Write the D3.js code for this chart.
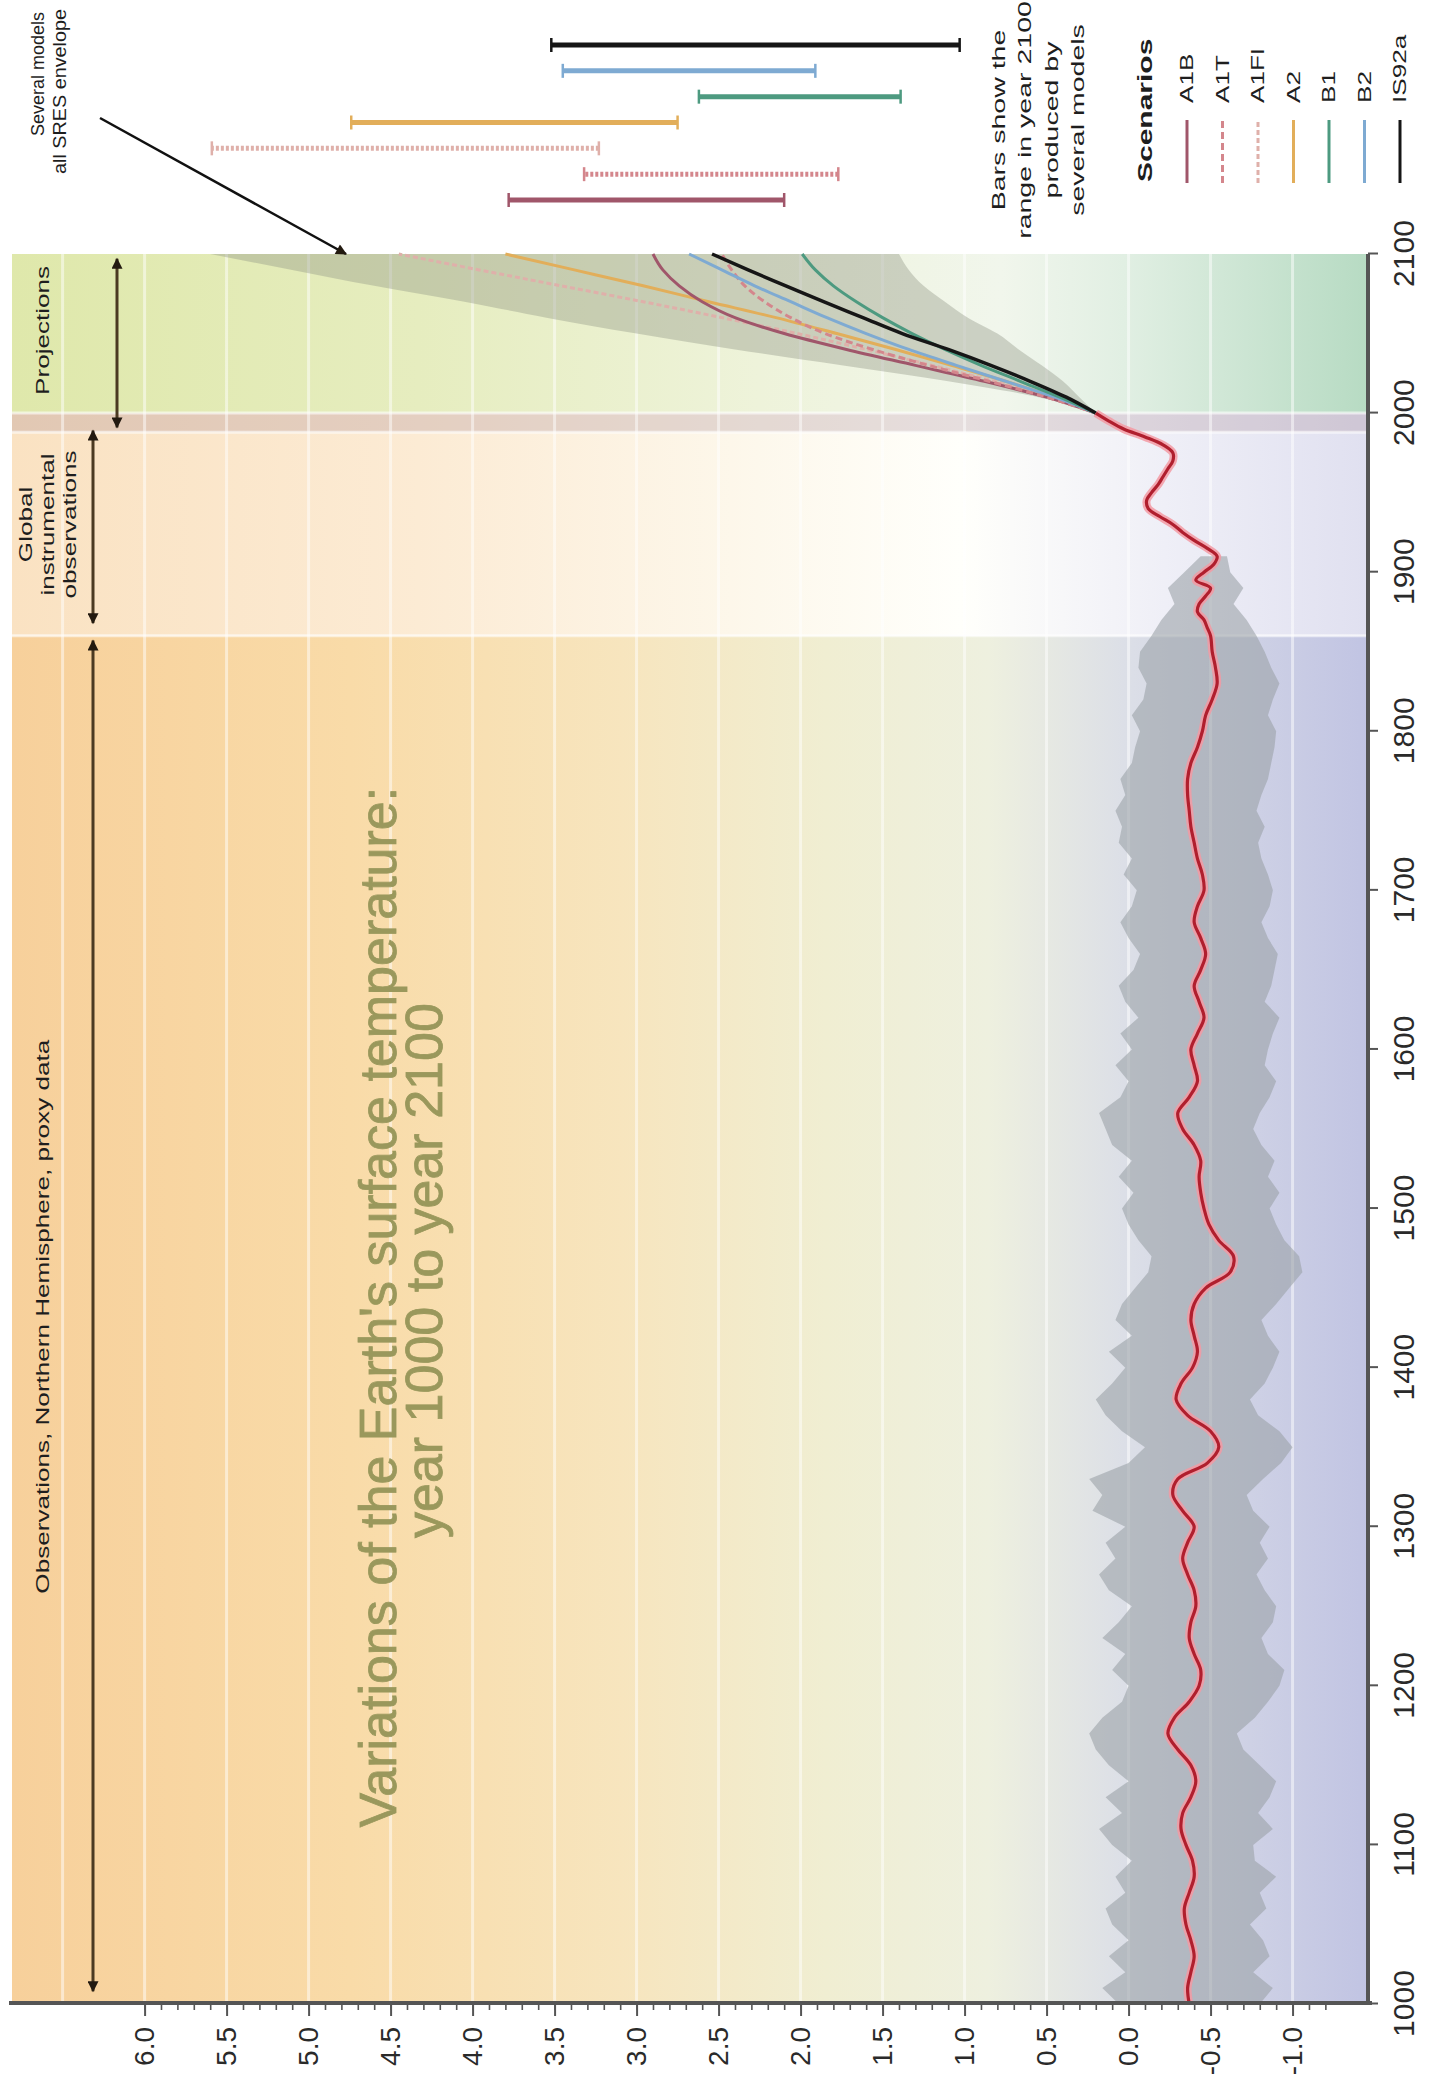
<!DOCTYPE html>
<html>
<head>
<meta charset="utf-8">
<script src="https://cdn.jsdelivr.net/npm/d3@7"></script>
<style>
  html, body { margin: 0; padding: 0; background: #ffffff; }
  svg { display: block; }
  text { font-family: "Liberation Sans", Arial, Helvetica, sans-serif; }
</style>
</head>
<body>
<svg id="chart" width="1429" height="2080"></svg>
<script>
// ---------------------------------------------------------------
// Northern Hemisphere temperature 1000-2000 and projections to 2100
// (departures in °C). The chart is laid out on its side: years run
// up the page, temperature runs from right (cold) to left (warm).
// ---------------------------------------------------------------

// Axis ticks
const yearTicks = [1000, 1100, 1200, 1300, 1400, 1500, 1600, 1700, 1800, 1900, 2000, 2100];
const tempTicks = [-1.0, -0.5, 0.0, 0.5, 1.0, 1.5, 2.0, 2.5, 3.0, 3.5, 4.0, 4.5, 5.0, 5.5, 6.0];
const tempTickLabels = ["-1.0", "-0.5", "0.0", "0.5", "1.0", "1.5", "2.0", "2.5", "3.0", "3.5", "4.0", "4.5", "5.0", "5.5", "6.0"];

// Smoothed record (proxy data to 1860, instruments afterwards)
const recordYears = [
  1000, 1010, 1020, 1030, 1040, 1050, 1060, 1070, 1080, 1090,
  1100, 1110, 1120, 1130, 1140, 1150, 1160, 1170, 1180, 1190,
  1200, 1210, 1220, 1230, 1240, 1250, 1260, 1270, 1280, 1290,
  1300, 1310, 1320, 1330, 1340, 1350, 1360, 1370, 1380, 1390,
  1400, 1410, 1420, 1430, 1440, 1450, 1460, 1470, 1480, 1490,
  1500, 1510, 1520, 1530, 1540, 1550, 1560, 1570, 1580, 1590,
  1600, 1610, 1620, 1630, 1640, 1650, 1660, 1670, 1680, 1690,
  1700, 1710, 1720, 1730, 1740, 1750, 1760, 1770, 1780, 1790,
  1800, 1810, 1820, 1830, 1840, 1850, 1860,
  1865, 1870, 1875, 1880, 1885, 1890, 1895, 1900, 1905, 1910,
  1915, 1920, 1925, 1930, 1935, 1940, 1945, 1950, 1955, 1960,
  1965, 1970, 1975, 1980, 1985, 1990, 1995, 2000
];
const recordTemps = [
  -0.37, -0.36, -0.38, -0.40, -0.38, -0.35, -0.34, -0.37, -0.40, -0.39,
  -0.35, -0.32, -0.33, -0.38, -0.41, -0.38, -0.30, -0.24, -0.28, -0.37,
  -0.43, -0.44, -0.40, -0.37, -0.38, -0.41, -0.40, -0.36, -0.33, -0.36,
  -0.40, -0.33, -0.27, -0.30, -0.48, -0.55, -0.50, -0.36, -0.29, -0.32,
  -0.39, -0.42, -0.40, -0.38, -0.40, -0.47, -0.62, -0.64, -0.55, -0.49,
  -0.46, -0.44, -0.43, -0.44, -0.40, -0.33, -0.30, -0.37, -0.42, -0.40,
  -0.38, -0.42, -0.46, -0.43, -0.40, -0.44, -0.47, -0.44, -0.40, -0.42,
  -0.46, -0.45, -0.42, -0.40, -0.38, -0.37, -0.36, -0.36, -0.38, -0.42,
  -0.45, -0.47, -0.51, -0.54, -0.53, -0.51, -0.50,
  -0.48, -0.46, -0.42, -0.43, -0.47, -0.50, -0.41, -0.46, -0.52, -0.54,
  -0.48, -0.40, -0.33, -0.27, -0.19, -0.12, -0.11, -0.14, -0.18, -0.21,
  -0.24, -0.27, -0.27, -0.21, -0.10, 0.03, 0.12, 0.20
];

// Range of the yearly reconstructions (warm and cold edges)
const rangeYears = [
  1000, 1010, 1020, 1030, 1040, 1050, 1060, 1070, 1080, 1090,
  1100, 1110, 1120, 1130, 1140, 1150, 1160, 1170, 1180, 1190,
  1200, 1210, 1220, 1230, 1240, 1250, 1260, 1270, 1280, 1290,
  1300, 1310, 1320, 1330, 1340, 1350, 1360, 1370, 1380, 1390,
  1400, 1410, 1420, 1430, 1440, 1450, 1460, 1470, 1480, 1490,
  1500, 1510, 1520, 1530, 1540, 1550, 1560, 1570, 1580, 1590,
  1600, 1610, 1620, 1630, 1640, 1650, 1660, 1670, 1680, 1690,
  1700, 1710, 1720, 1730, 1740, 1750, 1760, 1770, 1780, 1790,
  1800, 1810, 1820, 1830, 1840, 1850, 1860, 1870, 1880, 1890,
  1900, 1910
];
const rangeWarm = [
  0.06, 0.16, 0.02, 0.12, 0.00, 0.10, 0.14, 0.02, 0.08, -0.02,
  0.10, 0.18, 0.04, 0.14, 0.00, 0.12, 0.20, 0.24, 0.16, 0.04,
  0.00, 0.10, 0.02, 0.16, 0.06, -0.02, 0.12, 0.18, 0.08, 0.14,
  0.02, 0.22, 0.16, 0.24, 0.00, -0.10, 0.04, 0.14, 0.20, 0.10,
  0.02, 0.12, -0.02, 0.08, 0.04, -0.04, -0.12, -0.14, -0.06, 0.00,
  0.04, -0.03, 0.06, -0.02, 0.10, 0.14, 0.18, 0.05, 0.00, 0.08,
  -0.02, 0.05, -0.06, 0.02, 0.06, -0.03, -0.07, 0.00, 0.05, -0.02,
  -0.05, 0.03, -0.02, 0.06, 0.04, 0.08, 0.02, 0.05, -0.02, -0.04,
  -0.07, -0.02, -0.09, -0.11, -0.06, -0.07, -0.14, -0.20, -0.28, -0.24,
  -0.34, -0.44
];
const rangeCold = [
  -0.80, -0.88, -0.76, -0.86, -0.82, -0.74, -0.84, -0.80, -0.90, -0.77,
  -0.76, -0.88, -0.79, -0.86, -0.90, -0.80, -0.70, -0.66, -0.77, -0.85,
  -0.92, -0.95, -0.85, -0.81, -0.88, -0.90, -0.83, -0.78, -0.85, -0.80,
  -0.86, -0.76, -0.72, -0.82, -0.93, -1.00, -0.92, -0.79, -0.74, -0.83,
  -0.88, -0.92, -0.85, -0.81, -0.90, -0.98, -1.06, -1.04, -0.95, -0.90,
  -0.86, -0.92, -0.85, -0.89, -0.81, -0.76, -0.80, -0.86, -0.90, -0.83,
  -0.85, -0.88, -0.92, -0.83, -0.87, -0.89, -0.91, -0.85, -0.81, -0.86,
  -0.88, -0.85, -0.81, -0.79, -0.83, -0.78, -0.81, -0.85, -0.87, -0.89,
  -0.90, -0.85, -0.88, -0.92, -0.87, -0.83, -0.78, -0.72, -0.64, -0.70,
  -0.62, -0.60
];

// Projections 2000-2100
const projYears = [2000, 2010, 2020, 2030, 2040, 2050, 2060, 2070, 2080, 2090, 2100];
const envelopeWarm = [0.20, 0.55, 1.10, 1.75, 2.40, 3.00, 3.55, 4.05, 4.60, 5.10, 5.60];
const envelopeCold = [0.20, 0.30, 0.40, 0.53, 0.67, 0.80, 0.98, 1.12, 1.25, 1.34, 1.40];

const scenarios = ["A1B", "A1T", "A1FI", "A2", "B1", "B2", "IS92a"];
const scenarioColors = ["#a0566a", "#d4868c", "#dfb0aa", "#e2ae5a", "#4d9a80", "#7eaad2", "#161616"];
const scenarioDash = ["", "7,4", "5,3", "", "", "", ""];
const projA1B   = [0.20, 0.50, 0.88, 1.30, 1.72, 2.10, 2.40, 2.60, 2.74, 2.84, 2.90];
const projA1T   = [0.20, 0.50, 0.85, 1.22, 1.56, 1.85, 2.06, 2.22, 2.34, 2.42, 2.48];
const projA1FI  = [0.20, 0.48, 0.82, 1.20, 1.60, 2.02, 2.48, 2.96, 3.46, 3.96, 4.45];
const projA2    = [0.20, 0.45, 0.75, 1.08, 1.42, 1.78, 2.15, 2.56, 2.96, 3.38, 3.80];
const projB1    = [0.20, 0.42, 0.66, 0.90, 1.12, 1.32, 1.50, 1.66, 1.80, 1.91, 1.99];
const projB2    = [0.20, 0.45, 0.75, 1.05, 1.34, 1.60, 1.84, 2.06, 2.28, 2.48, 2.68];
const projIS92a = [0.20, 0.38, 0.60, 0.84, 1.10, 1.38, 1.62, 1.86, 2.09, 2.32, 2.54];
const projections = [projA1B, projA1T, projA1FI, projA2, projB1, projB2, projIS92a];

// Range of several models in year 2100, per scenario
const rangeLow2100  = [2.10, 1.77, 3.23, 2.75, 1.39, 1.91, 1.03];
const rangeHigh2100 = [3.78, 3.32, 5.59, 4.74, 2.62, 3.45, 3.52];

// ---------------------------------------------------------------
const W = 1429, H = 2080;
const FONT_SMALL = 18;

const svg = d3.select("#chart");
const defs = svg.append("defs");
// Rotated frame: u runs along the years, v along temperature (warm at top)
const g = svg.append("g").attr("transform", `translate(0,${H}) rotate(-90)`);

const x = d3.scaleLinear().domain([1000, 2100]).range([76, 1826]);
const y = d3.scaleLinear().domain([-1.46, 6.8]).range([1368, 13.4]);
const vTop = 12, vBottom = y.range()[0];

// Background gradients along the temperature direction
function gradient(id, stops) {
  const lg = defs.append("linearGradient").attr("id", id)
    .attr("gradientUnits", "userSpaceOnUse")
    .attr("x1", 0).attr("y1", vTop).attr("x2", 0).attr("y2", vBottom);
  stops.forEach(([o, c]) => lg.append("stop").attr("offset", o).attr("stop-color", c));
}
gradient("gProxy", [[0, "#f7d09b"], [0.25, "#f9dba8"], [0.45, "#f7e5be"], [0.6, "#f0eed2"],
  [0.72, "#eef0df"], [0.82, "#dcdfe7"], [1, "#c1c4e3"]]);
gradient("gInstr", [[0, "#fae2c2"], [0.3, "#fcebd4"], [0.55, "#fdf8ec"], [0.7, "#fffffb"],
  [0.85, "#efeff7"], [1, "#e0e0f0"]]);
gradient("gProj", [[0, "#dfe8ab"], [0.3, "#e6edbf"], [0.55, "#eef3da"], [0.73, "#f1f6ec"],
  [0.82, "#e1efe3"], [1, "#b7dbc3"]]);

const periods = [
  { from: 1000, to: 1860, fill: "url(#gProxy)" },
  { from: 1860, to: 2000, fill: "url(#gInstr)" },
  { from: 2000, to: 2100, fill: "url(#gProj)" }
];
g.append("g").selectAll("rect").data(periods).join("rect")
  .attr("x", d => x(d.from)).attr("width", d => x(d.to) - x(d.from))
  .attr("y", vTop).attr("height", vBottom - vTop)
  .attr("fill", d => d.fill);

// Band marking the end of the observed record
g.append("rect")
  .attr("x", x(1988)).attr("width", x(2000) - x(1988))
  .attr("y", vTop).attr("height", vBottom - vTop)
  .attr("fill", "#9c7a86").attr("opacity", 0.25);

// Soft white edges between periods
g.append("g").selectAll("line").data([1860, 1988, 2000]).join("line")
  .attr("x1", d => x(d)).attr("x2", d => x(d))
  .attr("y1", vTop).attr("y2", vBottom)
  .attr("stroke", "#ffffff").attr("stroke-width", 3).attr("opacity", 0.6);

// White grid lines every 0.5 °C
const gridTemps = [-1.0, -0.5, 0.0, 0.5, 1.0, 1.5, 2.0, 2.5, 3.0, 3.5, 4.0, 4.5, 5.0, 5.5, 6.0, 6.5];
g.append("g").selectAll("line").data(gridTemps).join("line")
  .attr("x1", x(1000)).attr("x2", x(2100))
  .attr("y1", d => y(d)).attr("y2", d => y(d))
  .attr("stroke", "#ffffff").attr("stroke-width", 3).attr("opacity", 0.5);

// Yearly range of the reconstruction
const rangeData = rangeYears.map((yr, i) => ({ yr, hi: rangeWarm[i], lo: rangeCold[i] }));
g.append("path").datum(rangeData)
  .attr("d", d3.area().x(d => x(d.yr)).y0(d => y(d.lo)).y1(d => y(d.hi)))
  .attr("fill", "#9aa0a6").attr("opacity", 0.58);

// Envelope of all scenarios, several models
const envData = projYears.map((yr, i) => ({ yr, hi: envelopeWarm[i], lo: envelopeCold[i] }));
g.append("path").datum(envData)
  .attr("d", d3.area().curve(d3.curveMonotoneX).x(d => x(d.yr)).y0(d => y(d.lo)).y1(d => y(d.hi)))
  .attr("fill", "#8f9483").attr("opacity", 0.38);

// Scenario projections
const projLine = d3.line().curve(d3.curveMonotoneX).x((d, i) => x(projYears[i])).y(d => y(d));
const drawOrder = [2, 3, 0, 1, 5, 4, 6];
g.append("g").selectAll("path").data(drawOrder).join("path")
  .attr("d", k => projLine(projections[k]))
  .attr("fill", "none")
  .attr("stroke", k => scenarioColors[k])
  .attr("stroke-width", k => k === 6 ? 3.5 : 3)
  .attr("stroke-dasharray", k => scenarioDash[k] || null);

// Smoothed record: pink halo under a dark red line
const recData = recordYears.map((yr, i) => ({ yr, t: recordTemps[i] }));
const recLine = d3.line().curve(d3.curveCatmullRom).x(d => x(d.yr)).y(d => y(d.t));
g.append("path").datum(recData).attr("d", recLine)
  .attr("fill", "none").attr("stroke", "#f39aa3").attr("stroke-width", 8).attr("opacity", 0.85);
g.append("path").datum(recData).attr("d", recLine)
  .attr("fill", "none").attr("stroke", "#b01f2e").attr("stroke-width", 3.2);

// ---------------- Axes ----------------
const axisColor = "#555555";

// Temperature axis (minor ticks every 0.1 °C)
const minorTicks = d3.range(-12, 61).map(d => d / 10);
g.append("g").attr("transform", `translate(${x(1000) + 1},0)`)
  .call(d3.axisLeft(y).tickValues(minorTicks).tickSize(7).tickFormat(""))
  .call(s => s.select(".domain").remove())
  .call(s => s.selectAll("line").attr("stroke", axisColor).attr("stroke-width", 1.6));

const tAxis = g.append("g").attr("transform", `translate(${x(1000) + 1},0)`)
  .call(d3.axisLeft(y).tickValues(tempTicks).tickSize(13).tickPadding(11)
    .tickFormat((d, i) => tempTickLabels[i]))
  .call(s => s.select(".domain").remove());
tAxis.selectAll("line").attr("stroke", axisColor).attr("stroke-width", 2);
tAxis.selectAll("text").attr("font-size", 28).attr("fill", "#2a2a2a");

// Year axis
const yAxis = g.append("g").attr("transform", `translate(0,${vBottom})`)
  .call(d3.axisBottom(x).tickValues(yearTicks).tickSize(10).tickPadding(15).tickFormat(d3.format("d")))
  .call(s => s.select(".domain").remove());
yAxis.selectAll("line").attr("stroke", axisColor).attr("stroke-width", 2);
yAxis.selectAll("text").attr("font-size", 30).attr("fill", "#2a2a2a");

// Axis lines
g.append("line").attr("x1", x(1000) + 1).attr("x2", x(1000) + 1).attr("y1", 9).attr("y2", vBottom + 4)
  .attr("stroke", axisColor).attr("stroke-width", 4);
g.append("line").attr("x1", x(1000) - 1).attr("x2", x(2100)).attr("y1", vBottom).attr("y2", vBottom)
  .attr("stroke", axisColor).attr("stroke-width", 4);

// ---------------- Title ----------------
const titleColor = "#9a985c";
g.append("text").attr("x", x(1438)).attr("y", 396)
  .attr("text-anchor", "middle").attr("font-size", 52).attr("fill", titleColor)
  .attr("stroke", titleColor).attr("stroke-width", 0.8)
  .text("Variations of the Earth's surface temperature:");
g.append("text").attr("x", x(1461)).attr("y", 442)
  .attr("text-anchor", "middle").attr("font-size", 52).attr("fill", titleColor)
  .attr("stroke", titleColor).attr("stroke-width", 0.8)
  .text("year 1000 to year 2100");

// ---------------- Period labels and arrows ----------------
function label(parent, u, v, str, opts = {}) {
  const sx = opts.sx || 1.45;
  return parent.append("text")
    .attr("transform", `translate(${u},${v}) scale(${sx},1)`)
    .attr("text-anchor", opts.anchor || "middle")
    .attr("font-size", opts.size || FONT_SMALL)
    .attr("font-weight", opts.weight || null)
    .attr("fill", opts.fill || "#1e1e1e")
    .text(str);
}

const arrowColor = "#4b3a22";
defs.append("marker").attr("id", "head").attr("viewBox", "0 0 10 10")
  .attr("refX", 9).attr("refY", 5).attr("markerWidth", 13).attr("markerHeight", 11)
  .attr("markerUnits", "userSpaceOnUse").attr("orient", "auto-start-reverse")
  .append("path").attr("d", "M0,0 L10,5 L0,10 z").attr("fill", "#231a10");

const spans = [
  { from: 1008, to: 1857, v: 93 },
  { from: 1868, to: 1989, v: 93 },
  { from: 1991, to: 2097, v: 117 }
];
g.append("g").selectAll("line").data(spans).join("line")
  .attr("x1", d => x(d.from)).attr("x2", d => x(d.to))
  .attr("y1", d => d.v).attr("y2", d => d.v)
  .attr("stroke", arrowColor).attr("stroke-width", 3)
  .attr("marker-start", "url(#head)").attr("marker-end", "url(#head)");

label(g, x(1432), 49, "Observations, Northern Hemisphere, proxy data");
label(g, x(1930), 32, "Global");
label(g, x(1930), 54, "instrumental");
label(g, x(1930), 76, "observations");
label(g, x(2052), 49, "Projections");

// Envelope call-out
label(g, 1944, 44, "Several models", { anchor: "start", sx: 1.0 });
label(g, 1906, 66, "all SRES envelope", { anchor: "start", sx: 1.1 });
g.append("line").attr("x1", 1962).attr("y1", 100).attr("x2", 1826).attr("y2", 346)
  .attr("stroke", "#111").attr("stroke-width", 2.5).attr("marker-end", "url(#head)");

// ---------------- Model ranges in 2100 ----------------
const barPos = d3.scalePoint().domain(scenarios).range([1880, 2035]);
const bars = g.append("g").selectAll("g").data(scenarios).join("g");
bars.append("line")
  .attr("x1", d => barPos(d)).attr("x2", d => barPos(d))
  .attr("y1", (d, i) => y(rangeLow2100[i])).attr("y2", (d, i) => y(rangeHigh2100[i]))
  .attr("stroke", (d, i) => scenarioColors[i]).attr("stroke-width", 5)
  .attr("stroke-dasharray", (d, i) => scenarioDash[i] ? "3,2" : null);
bars.selectAll("line.cap").data((d, i) => [rangeLow2100[i], rangeHigh2100[i]].map(t => ({ d, i, t })))
  .join("line").attr("class", "cap")
  .attr("x1", e => barPos(e.d) - 7).attr("x2", e => barPos(e.d) + 7)
  .attr("y1", e => y(e.t)).attr("y2", e => y(e.t))
  .attr("stroke", e => scenarioColors[e.i]).attr("stroke-width", 2.5);

const noteLines = ["Bars show the", "range in year 2100", "produced by", "several models"];
noteLines.forEach((s, i) => label(g, 1960, 1005 + i * 26.4, s, { size: 19, sx: 1.5 }));

// ---------------- Legend ----------------
label(g, 1898, 1152, "Scenarios", { anchor: "start", size: 20, sx: 1.5, weight: "bold" });
const rowPos = d3.scalePoint().domain(scenarios).range([1187, 1400]);
const rows = g.append("g").selectAll("g").data(scenarios).join("g");
rows.append("line")
  .attr("x1", 1897).attr("x2", 1960)
  .attr("y1", d => rowPos(d)).attr("y2", d => rowPos(d))
  .attr("stroke", (d, i) => scenarioColors[i]).attr("stroke-width", 3)
  .attr("stroke-dasharray", (d, i) => scenarioDash[i] || null);
rows.each(function (d) {
  label(d3.select(this), 1977, rowPos(d) + 6, d, { anchor: "start" });
});
</script>
</body>
</html>
